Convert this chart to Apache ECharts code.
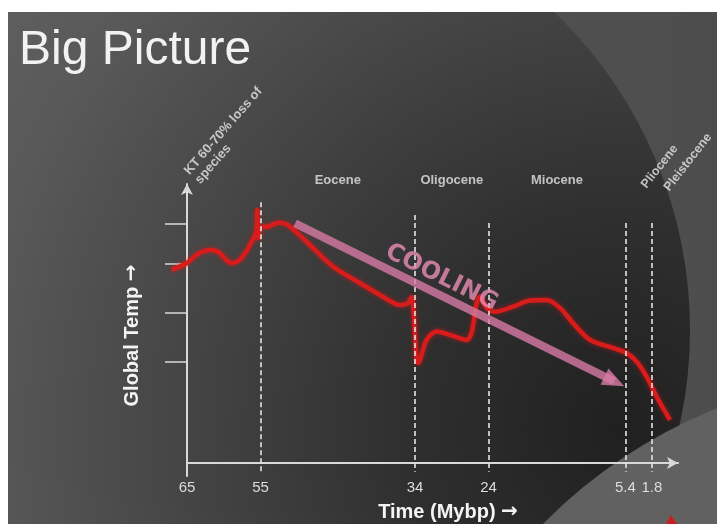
<!DOCTYPE html>
<html>
<head>
<meta charset="utf-8">
<title>Big Picture</title>
<script src="https://cdn.jsdelivr.net/npm/echarts@6/dist/echarts.min.js"></script>
<style>
html, body { margin: 0; padding: 0; background: #ffffff; }
#chart { width: 717px; height: 524px; }
</style>
</head>
<body>
<div id="chart"></div>
<script>
// Relative global temperature through the Cenozoic, by age in millions of years before present
const ages = [67.1, 65.06, 63.7, 61.89, 60.8, 58.94, 57.81, 56.45, 55.54, 55.46, 55.27, 54.96, 54.01, 52.66, 51.3,
  48.74, 45.17, 41.5, 38.37, 36.06, 34.97, 34.47, 33.79, 33.61, 32.43, 31.07, 29.26, 26.99, 26.31, 25.63,
  25.18, 24.27, 23.14, 20.69, 18.38, 16.11, 14.3, 12.54, 10.22, 7.1, 5.23, 3.87, 2.52, 1.16, -0.65];
const temps = [6.92, 7.16, 7.46, 7.63, 7.57, 7.16, 7.28, 7.81, 8.35, 9.07, 8.06, 8.46, 8.47, 8.61, 8.53,
  7.93, 7.04, 6.45, 5.96, 5.66, 5.73, 5.95, 3.69, 3.58, 4.41, 4.71, 4.59, 4.41, 4.66, 5.73,
  5.96, 5.56, 5.42, 5.6, 5.82, 5.84, 5.56, 5.02, 4.41, 4.12, 3.94, 3.63, 3.09, 2.38, 1.54];

// Epochs and their boundaries (Mybp)
const epochNames = ['Eocene', 'Oligocene', 'Miocene', 'Pliocene', 'Pleistocene'];
const epochStart = [55, 34, 24, 5.4, 1.8];
const epochEnd = [34, 24, 5.4, 1.8, 0];
// how far up each boundary line reaches (temperature units)
const boundaryTop = [9.35, 8.89, 8.6, 8.6, 8.6];

// Axis ticks
const ageTicks = [65, 55, 34, 24, 5.4, 1.8];
const tempTicks = [3.62, 5.38, 7.13, 8.57];

// Overall cooling trend: [age, temp] at start and end
const coolingFrom = [50.3, 8.59];
const coolingTo = [6.9, 2.92];

const FONT = "'Liberation Sans', Arial, sans-serif";

// Axis ranges and plot box
const AGE_MIN = -1.75, AGE_MAX = 65;
const TEMP_MIN = -0.47, TEMP_MAX = 10;
const GRID = { left: 187, right: 39, top: 184, bottom: 48 };
const CHART_W = 717;

// The temperature curve begins slightly before the left edge of the time axis, so it is
// drawn in a second, invisible grid with the same scale that reaches a little further left.
const CURVE_AGE_MAX = Math.ceil(Math.max(...ages) * 10) / 10 + 0.1;
const pxPerMy = (CHART_W - GRID.left - GRID.right) / (AGE_MAX - AGE_MIN);
const curveGrid = Object.assign({}, GRID, { left: GRID.left - (CURVE_AGE_MAX - AGE_MAX) * pxPerMy });

const chart = echarts.init(document.getElementById('chart'), null, { renderer: 'canvas' });

const tempLine = ages.map((a, i) => [a, temps[i]]);

const boundaryLines = epochStart.map((a, i) => [
  { coord: [a, boundaryTop[i]] },
  { coord: [a, -0.32] }
]);

const labelBase = {
  show: true,
  position: 'inside',
  color: '#e6e6e6',
  fontFamily: FONT,
  fontWeight: 'bold',
  fontSize: 13,
  formatter: p => p.name
};

// short epochs get slanted labels, anchored near the right end of their span
const slantAnchor = { Pliocene: [2.9, 9.9], Pleistocene: [-0.2, 9.8] };

const annotations = epochNames.map((name, i) => {
  const mid = (epochStart[i] + epochEnd[i]) / 2;
  return slantAnchor[name]
    ? { name, value: slantAnchor[name], label: { rotate: 52, align: 'left', verticalAlign: 'middle', fontSize: 12.5 } }
    : { name, value: [mid, 10.14], label: { align: 'center', verticalAlign: 'middle' } };
});
annotations.push({
  name: 'KT 60-70% loss of\nspecies',
  value: [64.3, 10.23],
  label: { rotate: 49, align: 'left', verticalAlign: 'middle', lineHeight: 14 }
});
annotations.push({
  name: 'COOLING',
  value: [30.4, 6.64],
  label: {
    rotate: -26.5, align: 'center', verticalAlign: 'middle',
    fontSize: 24, fontFamily: "'DejaVu Sans', sans-serif", color: '#e98cb3'
  }
});

// axis titles end with a heavy arrow glyph
const nameStyle = {
  color: '#f4f4f4', fontSize: 20, fontWeight: 'bold', fontFamily: FONT,
  rich: { arr: { color: '#f4f4f4', fontSize: 20, fontWeight: 'bold', fontFamily: "'DejaVu Sans', sans-serif" } }
};

const option = {
  backgroundColor: '#ffffff',
  animation: false,
  title: {
    text: 'Big Picture',
    left: 19,
    top: 27,
    padding: 0,
    textStyle: { color: '#f2f2f2', fontSize: 48, fontWeight: 'normal', fontFamily: FONT }
  },
  graphic: [
    {
      type: 'rect', z: -30, silent: true,
      shape: { x: 0, y: 0, width: 717, height: 524 },
      style: { fill: { type: 'linear', x: 0, y: 0, x2: 1, y2: 0,
        colorStops: [{ offset: 0, color: '#585858' }, { offset: 1, color: '#4d4d4d' }] } }
    },
    {
      type: 'circle', z: -29, silent: true,
      shape: { cx: 250, cy: 330, r: 440 },
      style: { fill: { type: 'radial', x: 620, y: 430, r: 720, global: true,
        colorStops: [
          { offset: 0, color: '#202020' },
          { offset: 0.3, color: '#2f2f2f' },
          { offset: 0.6, color: '#444444' },
          { offset: 0.9, color: '#595959' },
          { offset: 1, color: '#5d5d5d' }
        ] } }
    },
    {
      type: 'circle', z: -28, silent: true,
      shape: { cx: 906, cy: 882, r: 510 },
      style: { fill: '#616161' }
    },
    {
      type: 'polygon', z: -27, silent: true,
      shape: { points: [[666, 524], [671, 515], [677, 524]] },
      style: { fill: '#c81e1e' }
    },
    { type: 'rect', z: -26, silent: true, shape: { x: 0, y: 0, width: 717, height: 12 }, style: { fill: '#ffffff' } },
    { type: 'rect', z: -26, silent: true, shape: { x: 0, y: 0, width: 8, height: 524 }, style: { fill: '#ffffff' } }
  ],
  grid: [
    Object.assign({ outerBoundsMode: 'none' }, GRID),
    Object.assign({ outerBoundsMode: 'none' }, curveGrid)
  ],
  xAxis: [
    {
      type: 'value',
      gridIndex: 0,
      inverse: true,
      min: AGE_MIN,
      max: AGE_MAX,
      name: 'Time (Mybp) {arr|→}',
      nameLocation: 'middle',
      nameGap: 26,
      nameTextStyle: Object.assign({ padding: [0, 0, 0, 31] }, nameStyle),
      axisLine: { onZero: true, lineStyle: { color: '#d9d9d9', width: 2 }, symbol: ['none', 'arrow'], symbolSize: [9, 11] },
      axisTick: { show: false },
      splitLine: { show: false },
      axisLabel: {
        customValues: ageTicks,
        margin: 4,
        color: '#dcdcdc',
        fontSize: 15,
        fontFamily: "'Liberation Sans Narrow', 'Liberation Sans', sans-serif"
      }
    },
    {
      type: 'value',
      gridIndex: 1,
      inverse: true,
      min: AGE_MIN,
      max: CURVE_AGE_MAX,
      show: false
    }
  ],
  yAxis: [
    {
      type: 'value',
      gridIndex: 0,
      min: TEMP_MIN,
      max: TEMP_MAX,
      name: 'Global Temp {arr|→}',
      nameLocation: 'middle',
      nameRotate: 90,
      nameGap: 45,
      nameTextStyle: Object.assign({ padding: [0, 11, 0, 0] }, nameStyle),
      axisLine: { onZero: false, lineStyle: { color: '#d9d9d9', width: 2 }, symbol: ['none', 'arrow'], symbolSize: [9, 11] },
      axisTick: { show: true, customValues: tempTicks, length: 22, lineStyle: { color: '#d9d9d9', width: 1.5 } },
      axisLabel: { show: false },
      splitLine: { show: false }
    },
    {
      type: 'value',
      gridIndex: 1,
      min: TEMP_MIN,
      max: TEMP_MAX,
      show: false
    }
  ],
  series: [
    {
      name: 'Epoch boundaries',
      type: 'line',
      xAxisIndex: 0,
      yAxisIndex: 0,
      data: [],
      markLine: {
        silent: true,
        symbol: 'none',
        label: { show: false },
        lineStyle: { color: '#e4e4e4', width: 1.6, type: [5, 3] },
        data: boundaryLines
      }
    },
    {
      name: 'Global Temp',
      type: 'line',
      xAxisIndex: 1,
      yAxisIndex: 1,
      data: tempLine,
      smooth: 0.3,
      showSymbol: false,
      silent: true,
      lineStyle: { color: '#d81b1b', width: 4.5, shadowColor: 'rgba(235,20,20,0.55)', shadowBlur: 5 }
    },
    {
      name: 'Cooling trend',
      type: 'line',
      xAxisIndex: 0,
      yAxisIndex: 0,
      data: [],
      markLine: {
        silent: true,
        symbol: ['none', 'triangle'],
        symbolSize: [18, 22],
        label: { show: false },
        lineStyle: { color: 'rgba(215,123,163,0.8)', width: 8, type: 'solid' },
        itemStyle: { color: 'rgba(215,123,163,0.8)' },
        data: [[{ coord: coolingFrom }, { coord: coolingTo }]]
      }
    },
    {
      name: 'Annotations',
      type: 'scatter',
      xAxisIndex: 0,
      yAxisIndex: 0,
      clip: false,
      silent: true,
      symbolSize: 1,
      itemStyle: { color: 'rgba(0,0,0,0)' },
      label: labelBase,
      data: annotations,
      z: 5
    }
  ]
};

chart.setOption(option);
</script>
</body>
</html>
